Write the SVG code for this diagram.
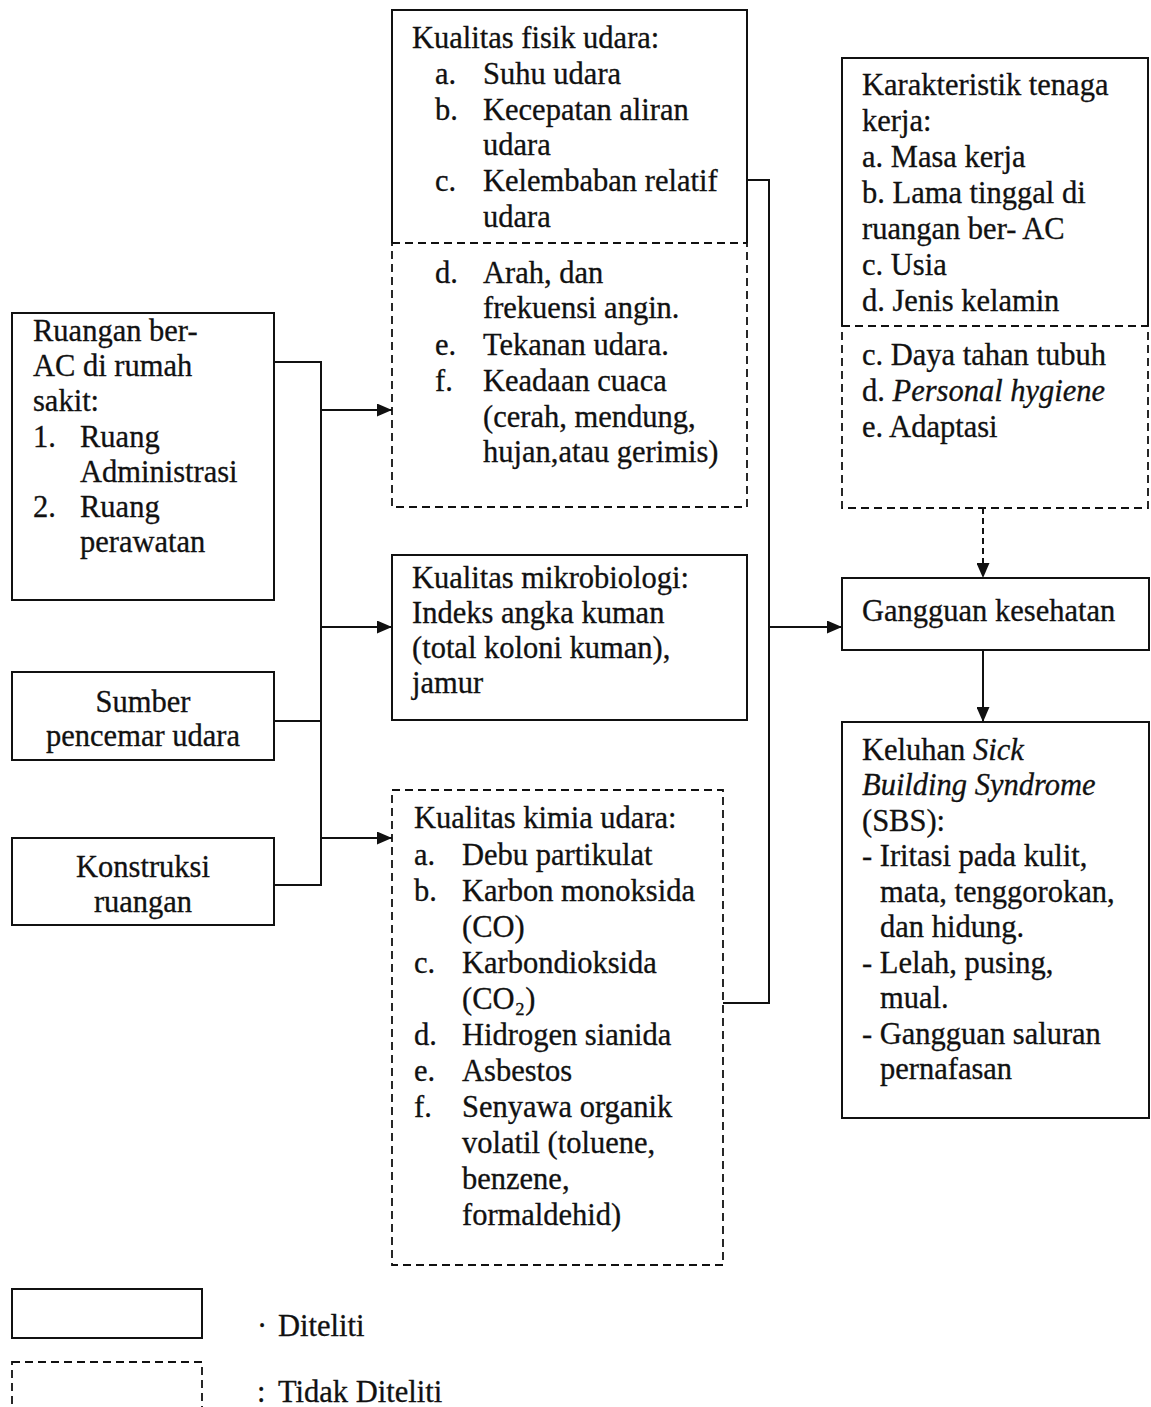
<svg xmlns="http://www.w3.org/2000/svg" width="1151" height="1407" viewBox="0 0 1151 1407">
<style>
text{font-family:"Liberation Serif","Times New Roman",serif;font-size:30.5px;fill:#111;stroke:#111;stroke-width:0.3}
.c{text-anchor:middle}
.i{font-style:italic}
.solid{fill:none;stroke:#111;stroke-width:2}
.dash{fill:none;stroke:#111;stroke-width:1.8;stroke-dasharray:8 5}
.ln{fill:none;stroke:#111;stroke-width:2}
.lnd{fill:none;stroke:#111;stroke-width:2;stroke-dasharray:6 4}
</style>
<defs>
<marker id="ah" markerUnits="userSpaceOnUse" markerWidth="15" markerHeight="13" refX="15" refY="6.5" orient="auto">
<path d="M0,0 L15,6.5 L0,13 Z" fill="#111"/>
</marker>
</defs>
<rect width="1151" height="1407" fill="#fff"/>

<g id="fisik">
<path class="solid" d="M392,243 V10 H747 V243"/>
<rect class="dash" x="392" y="243" width="355" height="264"/>
<text x="412" y="48">Kualitas fisik udara:</text>
<text x="435" y="84">a.</text><text x="483" y="84">Suhu udara</text>
<text x="435" y="120">b.</text><text x="483" y="120">Kecepatan aliran</text>
<text x="483" y="155">udara</text>
<text x="435" y="191">c.</text><text x="483" y="191">Kelembaban relatif</text>
<text x="483" y="227">udara</text>
<text x="435" y="283">d.</text><text x="483" y="283">Arah, dan</text>
<text x="483" y="318">frekuensi angin.</text>
<text x="435" y="355">e.</text><text x="483" y="355">Tekanan udara.</text>
<text x="435" y="391">f.</text><text x="483" y="391">Keadaan cuaca</text>
<text x="483" y="427">(cerah, mendung,</text>
<text x="483" y="462">hujan,atau gerimis)</text>
</g>

<g id="karakteristik">
<path class="solid" d="M842,326 V58 H1148 V326"/>
<rect class="dash" x="842" y="326" width="306" height="182"/>
<text x="862" y="95">Karakteristik tenaga</text>
<text x="862" y="131">kerja:</text>
<text x="862" y="167">a. Masa kerja</text>
<text x="862" y="203">b. Lama tinggal di</text>
<text x="862" y="239">ruangan ber- AC</text>
<text x="862" y="275">c. Usia</text>
<text x="862" y="311">d. Jenis kelamin</text>
<text x="862" y="365">c. Daya tahan tubuh</text>
<text x="862" y="401">d. <tspan class="i">Personal hygiene</tspan></text>
<text x="862" y="437">e. Adaptasi</text>
</g>

<g id="ruangan">
<rect class="solid" x="12" y="313" width="262" height="287"/>
<text x="33" y="341">Ruangan ber-</text>
<text x="33" y="376">AC di rumah</text>
<text x="33" y="411">sakit:</text>
<text x="33" y="447">1.</text><text x="80" y="447">Ruang</text>
<text x="80" y="482">Administrasi</text>
<text x="33" y="517">2.</text><text x="80" y="517">Ruang</text>
<text x="80" y="552">perawatan</text>
</g>

<g id="sumber">
<rect class="solid" x="12" y="672" width="262" height="88"/>
<text class="c" x="143" y="712">Sumber</text>
<text class="c" x="143" y="746">pencemar udara</text>
</g>

<g id="konstruksi">
<rect class="solid" x="12" y="838" width="262" height="87"/>
<text class="c" x="143" y="877">Konstruksi</text>
<text class="c" x="143" y="912">ruangan</text>
</g>

<g id="mikrobiologi">
<rect class="solid" x="392" y="555" width="355" height="165"/>
<text x="412" y="588">Kualitas mikrobiologi:</text>
<text x="412" y="623">Indeks angka kuman</text>
<text x="412" y="658">(total koloni kuman),</text>
<text x="412" y="693">jamur</text>
</g>

<g id="kimia">
<rect class="dash" x="392" y="790" width="331" height="475"/>
<text x="414" y="828">Kualitas kimia udara:</text>
<text x="414" y="865">a.</text><text x="462" y="865">Debu partikulat</text>
<text x="414" y="901">b.</text><text x="462" y="901">Karbon monoksida</text>
<text x="462" y="937">(CO)</text>
<text x="414" y="973">c.</text><text x="462" y="973">Karbondioksida</text>
<text x="462" y="1009">(CO₂)</text>
<text x="414" y="1045">d.</text><text x="462" y="1045">Hidrogen sianida</text>
<text x="414" y="1081">e.</text><text x="462" y="1081">Asbestos</text>
<text x="414" y="1117">f.</text><text x="462" y="1117">Senyawa organik</text>
<text x="462" y="1153">volatil (toluene,</text>
<text x="462" y="1189">benzene,</text>
<text x="462" y="1225">formaldehid)</text>
</g>

<g id="gangguan">
<rect class="solid" x="842" y="578" width="307" height="72"/>
<text x="862" y="621">Gangguan kesehatan</text>
</g>

<g id="sbs">
<rect class="solid" x="842" y="722" width="307" height="396"/>
<text x="862" y="760">Keluhan <tspan class="i">Sick</tspan></text>
<text class="i" x="862" y="795">Building Syndrome</text>
<text x="862" y="831">(SBS):</text>
<text x="862" y="866">- Iritasi pada kulit,</text>
<text x="880" y="902">mata, tenggorokan,</text>
<text x="880" y="937">dan hidung.</text>
<text x="862" y="973">- Lelah, pusing,</text>
<text x="880" y="1008">mual.</text>
<text x="862" y="1044">- Gangguan saluran</text>
<text x="880" y="1079">pernafasan</text>
</g>

<g id="connectors">
<path class="ln" d="M274,362 H321 V885 H274"/>
<path class="ln" d="M274,721 H321"/>
<path class="ln" d="M321,410 H392" marker-end="url(#ah)"/>
<path class="ln" d="M321,627 H392" marker-end="url(#ah)"/>
<path class="ln" d="M321,838 H392" marker-end="url(#ah)"/>
<path class="ln" d="M747,180 H769 V1003 H723"/>
<path class="ln" d="M769,627 H842" marker-end="url(#ah)"/>
<path class="lnd" d="M983,508 V578" marker-end="url(#ah)"/>
<path class="ln" d="M983,650 V722" marker-end="url(#ah)"/>
</g>

<g id="legend">
<rect class="solid" x="12" y="1289" width="190" height="49"/>
<rect class="dash" x="12" y="1362" width="190" height="52"/>
<text x="257" y="1336">·</text><text x="278" y="1336">Diteliti</text>
<text x="257" y="1402">:</text><text x="278" y="1402">Tidak Diteliti</text>
</g>
</svg>
